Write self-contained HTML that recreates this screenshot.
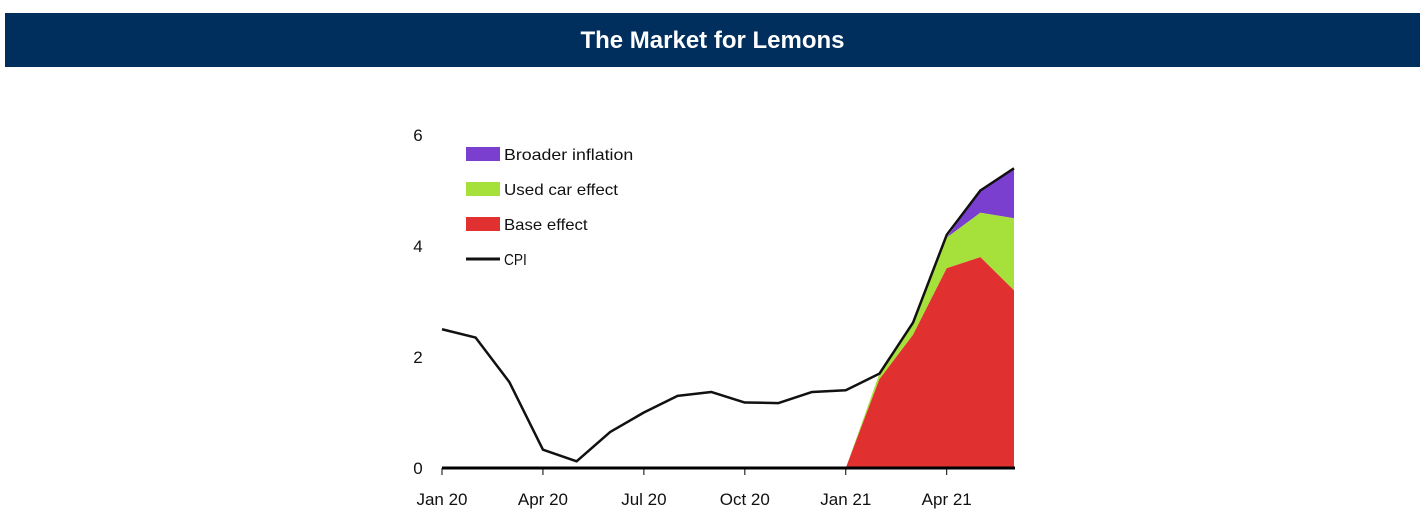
<!DOCTYPE html>
<html><head><meta charset="utf-8"><style>
body{margin:0;background:#fff;width:1425px;height:527px;overflow:hidden;font-family:"Liberation Sans",sans-serif}
#title{position:absolute;left:5px;top:13px;width:1415px;height:54px;background:#002e5d;color:#fff;font-weight:bold;font-size:24px;line-height:56px;text-align:center}
svg{position:absolute;left:0;top:0}
</style></head><body>
<div id="title">The Market for Lemons</div>
<svg id="chart" width="1425" height="527"></svg>
<script>
const months=["Jan 20","Feb 20","Mar 20","Apr 20","May 20","Jun 20","Jul 20","Aug 20","Sep 20","Oct 20","Nov 20","Dec 20","Jan 21","Feb 21","Mar 21","Apr 21","May 21","Jun 21"];
const cpi=[2.5,2.35,1.55,0.33,0.12,0.65,1.0,1.3,1.37,1.18,1.17,1.37,1.4,1.7,2.62,4.2,5.0,5.4];
const baseEffect=[0,0,0,0,0,0,0,0,0,0,0,0,0,1.6,2.4,3.6,3.8,3.2];
const usedCar=[0,0,0,0,0,0,0,0,0,0,0,0,0,0.1,0.2,0.55,0.8,1.3];
const broader=[0,0,0,0,0,0,0,0,0,0,0,0,0,0,0,0,0.4,0.9];
const yTicks=[0,2,4,6];
const xTickLabels=["Jan 20","Apr 20","Jul 20","Oct 20","Jan 21","Apr 21"];
const xTickIdx=[0,3,6,9,12,15];
const NS="http://www.w3.org/2000/svg";
const svg=document.getElementById('chart');
const x=i=>442+i*(1014-442)/17;
const y=v=>468-v*55.5;
function mk(t,a){const e=document.createElementNS(NS,t);for(const k in a)e.setAttribute(k,a[k]);svg.appendChild(e);return e;}
function area(lo,hi,color,name){
  let d="";hi.forEach((v,i)=>{d+=(i?"L":"M")+x(i)+","+y(v);});
  for(let i=lo.length-1;i>=0;i--)d+="L"+x(i)+","+y(lo[i]);
  const p=mk('path',{d:d+"Z",fill:color});
  
  
}
const zero=months.map(()=>0);
const c1=baseEffect.slice();
const c2=baseEffect.map((v,i)=>v+usedCar[i]);
const c3=c2.map((v,i)=>v+broader[i]);
area(c2,c3,"#7b3fd0","area-broader-inflation");
area(c1,c2,"#a6e03a","area-used-car-effect");
area(zero,c1,"#e03030","area-base-effect");
const ax=mk('line',{x1:442,y1:468,x2:1015,y2:468,stroke:"#000","stroke-width":3});


xTickIdx.forEach((idx,k)=>{
  const t=mk('line',{x1:x(idx),y1:468,x2:x(idx),y2:475,stroke:"#000","stroke-width":1});
  
  
  const l=mk('text',{x:x(idx),y:505,"text-anchor":"middle","font-size":17,fill:"#111"});
  l.textContent=xTickLabels[k];
  
  
});
yTicks.forEach(v=>{
  const l=mk('text',{x:418,y:y(v)+6,"text-anchor":"middle","font-size":17,fill:"#111"});
  l.textContent=v;
  
  
});
let d="";cpi.forEach((v,i)=>{d+=(i?"L":"M")+x(i)+","+y(v);});
const ln=mk('path',{d:d,fill:"none",stroke:"#111","stroke-width":2.5,"stroke-linejoin":"round"});


const leg=[["Broader inflation","#7b3fd0","rect"],["Used car effect","#a6e03a","rect"],["Base effect","#e03030","rect"],["CPI","#111","line"]];
leg.forEach((e,k)=>{
  const yy=154+k*35;
  if(e[2]=="rect"){
    const r=mk('rect',{x:466,y:yy-7,width:34,height:14,fill:e[1]});
    
    
  } else {
    const r=mk('line',{x1:466,y1:yy,x2:500,y2:yy,stroke:e[1],"stroke-width":3});
    
    
  }
  const t=mk('text',{x:504,y:yy+6,"font-size":16,fill:"#111",textLength:e[0].length*7.6,lengthAdjust:"spacingAndGlyphs"});
  t.textContent=e[0];
  
  
});
</script>
</body></html>
